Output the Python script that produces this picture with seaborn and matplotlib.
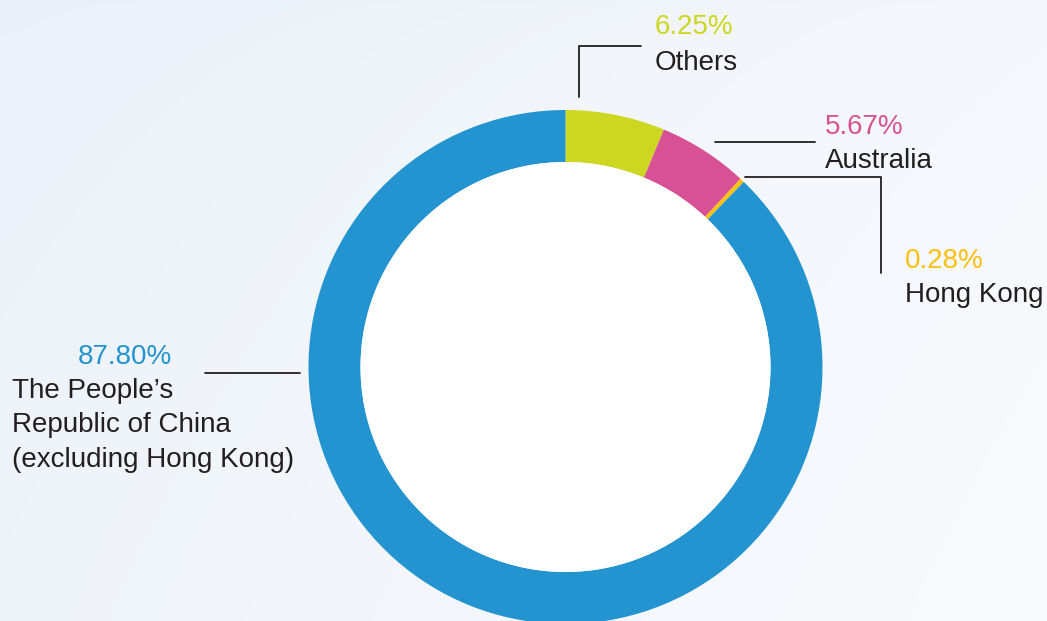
import numpy as np
import matplotlib.pyplot as plt
import seaborn as sns
from matplotlib.colors import LinearSegmentedColormap
from matplotlib.patches import Circle

# -------------------------------
# Data
# -------------------------------
labels = ["Others", "Australia", "Hong Kong",
          "The People\u2019s\nRepublic of China\n(excluding Hong Kong)"]
shares = [6.25, 5.67, 0.28, 87.80]
colors = ["#CDD621", "#D85194", "#FCC010", "#2494D0"]

W, H = 1047, 621

sns.set_theme(style="white")
plt.rcParams['font.family'] = ['Liberation Sans', 'DejaVu Sans']

fig = plt.figure(figsize=(W / 100, H / 100), dpi=100)
ax = fig.add_axes([0, 0, 1, 1])

# soft background gradient
bg = LinearSegmentedColormap.from_list("bg", ["#E9F0F8", "#F2F6FB", "#F8FAFD"])
gx = np.linspace(0, 1, 300)
gy = np.linspace(0, 1, 200)
grad = np.clip(0.65 * gx[None, :] + 0.35 * gy[:, None] ** 0.5, 0, 1)
ax.imshow(grad, cmap=bg, extent=[0, W, 0, H], aspect='auto', zorder=0)

# donut
cx, cy, r, ring = 565.5, H - 367, 257, 52
ax.pie(shares, colors=colors, startangle=90, counterclock=False,
       center=(cx, cy), radius=r,
       wedgeprops=dict(width=ring, linewidth=0))
ax.add_patch(Circle((cx, cy), r - ring, facecolor="white",
                    edgecolor="none", zorder=1))

ax.set_xlim(0, W)
ax.set_ylim(0, H)
ax.set_aspect('equal')
ax.axis('off')

fs = 20
dark = "#231F20"

def y(p):
    return H - p

# leader lines (pixel coords from top-left)
lw = 1.3
ax.plot([579, 579, 641], [y(97), y(46), y(46)], color=dark, lw=lw)
ax.plot([715, 815], [y(142), y(142)], color=dark, lw=lw)
ax.plot([745, 881, 881], [y(177), y(177), y(273)], color=dark, lw=lw)
ax.plot([205, 300], [y(373), y(373)], color=dark, lw=lw)

# labels
ax.text(655, y(34), f"{shares[0]:.2f}%", color=colors[0], fontsize=fs)
ax.text(655, y(70), labels[0], color=dark, fontsize=fs)

ax.text(825, y(134), f"{shares[1]:.2f}%", color=colors[1], fontsize=fs)
ax.text(825, y(168), labels[1], color=dark, fontsize=fs)

ax.text(905, y(268), f"{shares[2]:.2f}%", color=colors[2], fontsize=fs)
ax.text(905, y(302), labels[2], color=dark, fontsize=fs)

ax.text(172, y(364), f"{shares[3]:.2f}%", color=colors[3], fontsize=fs,
        ha='right')
for i, line in enumerate(labels[3].split("\n")):
    ax.text(12, y(398 + 34.5 * i), line, color=dark, fontsize=fs)

fig.savefig("out.png", dpi=100)
